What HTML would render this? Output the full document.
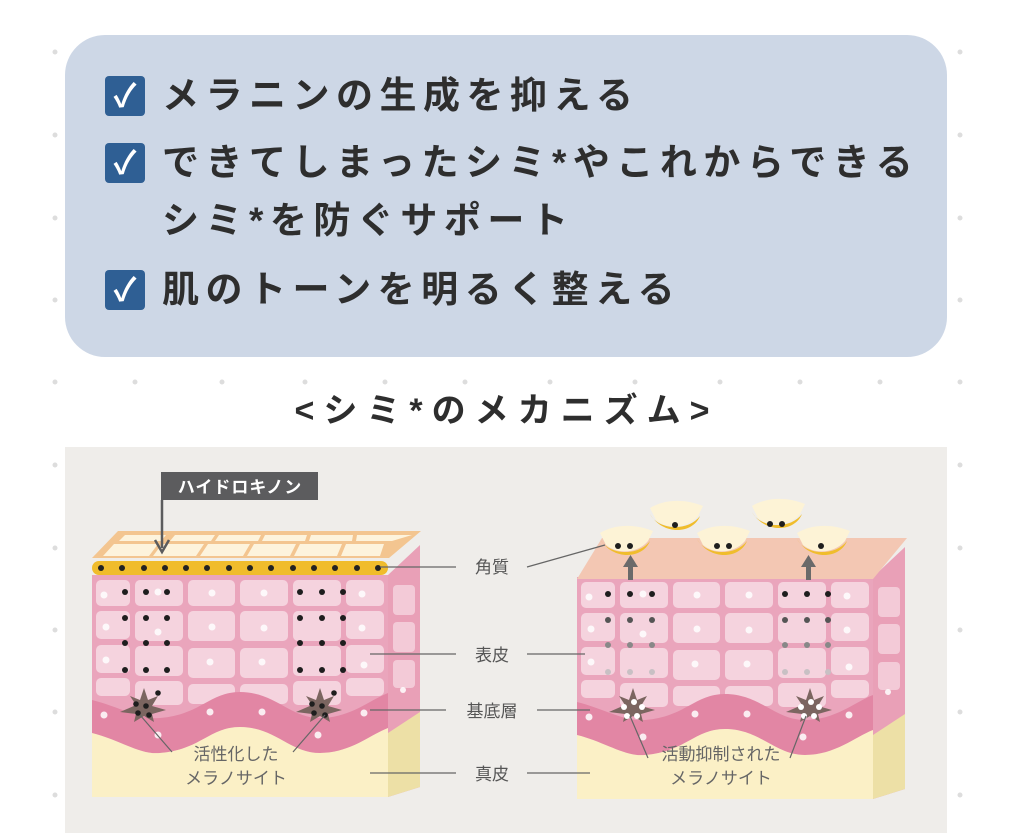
<!DOCTYPE html>
<html><head><meta charset="utf-8"><style>
html,body{margin:0;padding:0;background:#fff;width:1013px;height:833px;overflow:hidden;font-family:"Liberation Sans","Noto Sans CJK JP",sans-serif;}
.box{position:absolute;left:65px;top:35px;width:882px;height:322px;background:#cdd7e6;border-radius:40px;}
.it{position:absolute;left:105px;font-size:37px;font-weight:bold;color:#2e2e2e;letter-spacing:6.5px;line-height:40px;white-space:nowrap;}
.cb{display:inline-block;width:40px;height:40px;background:#2f5f94;border-radius:4px;color:#fff;text-align:center;font-size:32px;line-height:40px;vertical-align:top;margin-right:17px;letter-spacing:0}
.title{position:absolute;left:0;width:1013px;top:383px;text-align:center;font-size:34px;font-weight:bold;color:#2e2e2e;letter-spacing:9px;}
svg{position:absolute;left:0;top:0}
</style></head><body>
<svg width="1013" height="833">
<g fill="#ddd">
<circle cx="55" cy="52" r="2.5"/><circle cx="55" cy="135" r="2.5"/><circle cx="55" cy="218" r="2.5"/><circle cx="55" cy="300" r="2.5"/><circle cx="55" cy="382" r="2.5"/><circle cx="55" cy="465" r="2.5"/><circle cx="55" cy="548" r="2.5"/><circle cx="55" cy="630" r="2.5"/><circle cx="55" cy="712" r="2.5"/><circle cx="55" cy="795" r="2.5"/>
<circle cx="960" cy="52" r="2.5"/><circle cx="960" cy="135" r="2.5"/><circle cx="960" cy="218" r="2.5"/><circle cx="960" cy="300" r="2.5"/><circle cx="960" cy="382" r="2.5"/><circle cx="960" cy="465" r="2.5"/><circle cx="960" cy="548" r="2.5"/><circle cx="960" cy="630" r="2.5"/><circle cx="960" cy="712" r="2.5"/><circle cx="960" cy="795" r="2.5"/>
<circle cx="135" cy="382" r="2.5"/><circle cx="222" cy="382" r="2.5"/><circle cx="305" cy="382" r="2.5"/><circle cx="385" cy="382" r="2.5"/><circle cx="465" cy="382" r="2.5"/><circle cx="550" cy="382" r="2.5"/><circle cx="635" cy="382" r="2.5"/><circle cx="720" cy="382" r="2.5"/><circle cx="800" cy="382" r="2.5"/><circle cx="880" cy="382" r="2.5"/>
</g>
<rect x="65" y="447" width="882" height="386" fill="#efedea"/>
<defs>
<g id="body">
<polygon points="388,575 420,545 420,787 388,797" fill="#e9a0b7"/>
<polygon points="388,733 420,712 420,787 388,797" fill="#ede0a6"/>
<g fill="#f3cad7"><rect x="393" y="585" width="22" height="30" rx="4"/><rect x="393" y="622" width="22" height="30" rx="4"/><rect x="393" y="660" width="22" height="28" rx="4"/></g>
<rect x="92" y="575" width="296" height="222" fill="#eaa5bc"/>
<g fill="#f5d3de">
<rect x="96" y="580" width="34" height="26" rx="5"/><rect x="135" y="580" width="48" height="26" rx="5"/><rect x="188" y="580" width="47" height="26" rx="5"/><rect x="240" y="580" width="48" height="26" rx="5"/><rect x="293" y="580" width="48" height="26" rx="5"/><rect x="346" y="580" width="38" height="26" rx="5"/>
<rect x="96" y="611" width="34" height="28" rx="5"/><rect x="135" y="611" width="48" height="30" rx="5"/><rect x="188" y="611" width="47" height="30" rx="5"/><rect x="240" y="611" width="48" height="30" rx="5"/><rect x="293" y="611" width="48" height="30" rx="5"/><rect x="346" y="611" width="38" height="28" rx="5"/>
<rect x="96" y="645" width="34" height="28" rx="5"/><rect x="135" y="646" width="48" height="30" rx="5"/><rect x="188" y="648" width="47" height="30" rx="5"/><rect x="240" y="648" width="48" height="30" rx="5"/><rect x="293" y="646" width="48" height="30" rx="5"/><rect x="346" y="645" width="38" height="28" rx="5"/>
<rect x="96" y="678" width="34" height="18" rx="5"/><rect x="135" y="681" width="48" height="24" rx="5"/><rect x="188" y="684" width="47" height="20" rx="5"/><rect x="240" y="684" width="48" height="20" rx="5"/><rect x="293" y="681" width="48" height="24" rx="5"/><rect x="346" y="678" width="38" height="18" rx="5"/>
</g>
<path d="M92,700 C120,707 140,720 160,718 C200,715 210,692 240,692 C275,692 290,718 320,718 C350,718 370,700 388,693 L388,728 C370,735 350,753 320,753 C290,753 275,727 240,727 C210,727 200,750 160,753 C140,755 120,740 92,733 Z" fill="#e286a4"/>
<path d="M92,733 C120,740 140,755 160,753 C200,750 210,727 240,727 C275,727 290,753 320,753 C350,753 370,735 388,728 L388,797 L92,797 Z" fill="#fbf0c6"/>
<g fill="#fff" opacity="0.85">
<circle cx="104" cy="595" r="3.5"/><circle cx="158" cy="592" r="3.5"/><circle cx="212" cy="593" r="3.5"/><circle cx="264" cy="593" r="3.5"/><circle cx="362" cy="594" r="3.5"/>
<circle cx="106" cy="627" r="3.5"/><circle cx="158" cy="632" r="3.5"/><circle cx="212" cy="627" r="3.5"/><circle cx="264" cy="628" r="3.5"/><circle cx="362" cy="628" r="3.5"/>
<circle cx="106" cy="660" r="3.5"/><circle cx="210" cy="662" r="3.5"/><circle cx="262" cy="662" r="3.5"/><circle cx="364" cy="665" r="3.5"/>
<circle cx="104" cy="715" r="3.5"/><circle cx="210" cy="712" r="3.5"/><circle cx="262" cy="712" r="3.5"/><circle cx="364" cy="713" r="3.5"/>
<circle cx="158" cy="735" r="3.5"/><circle cx="318" cy="735" r="3.5"/><circle cx="403" cy="690" r="3"/>
</g>
</g>
<g id="mc"><path d="M0,-20 L4,-8 L14,-12 L8,-2 L22,2 L8,6 L10,14 L0,8 L-10,14 L-8,6 L-24,4 L-8,-3 L-14,-12 L-4,-8 Z" fill="#7b6560"/></g>
</defs>
<use href="#body"/>
<use href="#body" transform="translate(485,2)"/>
<polygon points="92,558 118,531 421,531 389,558" fill="#f3c590"/>
<g fill="#fdf3dc"><polygon points="103,556 114,544 158,544 149,556"/><polygon points="119,541 125,535 166,535 161,541"/>
<polygon points="153,556 162,544 204,544 196,556"/><polygon points="200,556 208,544 250,544 243,556"/><polygon points="247,556 254,544 296,544 290,556"/><polygon points="294,556 300,544 342,544 337,556"/><polygon points="341,556 346,544 384,544 380,556"/>
<polygon points="170,541 175,535 215,535 211,541"/><polygon points="215,541 219,535 261,535 258,541"/><polygon points="262,541 265,535 307,535 305,541"/><polygon points="309,541 311,535 353,535 352,541"/><polygon points="356,541 357,535 412,535 392,541"/></g>
<rect x="92" y="561" width="296" height="14" rx="7" fill="#f0bc2c"/>
<g fill="#222"><circle cx="101" cy="568" r="3"/><circle cx="122" cy="568" r="3"/><circle cx="144" cy="568" r="3"/><circle cx="165" cy="568" r="3"/><circle cx="186" cy="568" r="3"/><circle cx="207" cy="568" r="3"/><circle cx="229" cy="568" r="3"/><circle cx="250" cy="568" r="3"/><circle cx="271" cy="568" r="3"/><circle cx="293" cy="568" r="3"/><circle cx="314" cy="568" r="3"/><circle cx="335" cy="568" r="3"/><circle cx="357" cy="568" r="3"/><circle cx="378" cy="568" r="3"/></g>
<g fill="#1e1e1e">
<circle cx="125" cy="592" r="3"/><circle cx="146" cy="592" r="3"/><circle cx="167" cy="592" r="3"/><circle cx="125" cy="618" r="3"/><circle cx="146" cy="618" r="3"/><circle cx="167" cy="618" r="3"/><circle cx="125" cy="643" r="3"/><circle cx="146" cy="643" r="3"/><circle cx="167" cy="643" r="3"/><circle cx="125" cy="670" r="3"/><circle cx="146" cy="670" r="3"/><circle cx="167" cy="670" r="3"/>
<circle cx="300" cy="592" r="3"/><circle cx="322" cy="592" r="3"/><circle cx="343" cy="592" r="3"/><circle cx="300" cy="618" r="3"/><circle cx="322" cy="618" r="3"/><circle cx="343" cy="618" r="3"/><circle cx="300" cy="643" r="3"/><circle cx="322" cy="643" r="3"/><circle cx="343" cy="643" r="3"/><circle cx="300" cy="670" r="3"/><circle cx="322" cy="670" r="3"/><circle cx="343" cy="670" r="3"/>
</g>
<use href="#mc" transform="translate(144,708)"/><use href="#mc" transform="translate(320,708)"/>
<g fill="#1e1e1e"><circle cx="136" cy="704" r="2.8"/><circle cx="146" cy="706" r="2.8"/><circle cx="138" cy="713" r="2.8"/><circle cx="149" cy="715" r="2.8"/><circle cx="158" cy="693" r="2.8"/>
<circle cx="312" cy="704" r="2.8"/><circle cx="322" cy="706" r="2.8"/><circle cx="314" cy="713" r="2.8"/><circle cx="325" cy="715" r="2.8"/><circle cx="334" cy="693" r="2.8"/></g>
<rect x="161" y="472" width="157" height="28" fill="#5c5c5e"/>
<text x="240" y="493" font-size="17" font-weight="bold" fill="#fff" text-anchor="middle" letter-spacing="1">ハイドロキノン</text>
<line x1="162" y1="500" x2="162" y2="548" stroke="#5c5c5e" stroke-width="2.5"/>
<path d="M155,540 L162,552 L169,540" fill="none" stroke="#5c5c5e" stroke-width="2.5"/>
<polygon points="577,579 602,538 907,538 873,579" fill="#f3c7b3"/>
<g fill="#6a6a6a"><rect x="628" y="566" width="5" height="14"/><polygon points="623,567 630.5,555 638,567"/><rect x="806" y="566" width="5" height="14"/><polygon points="801,567 808.5,555 816,567"/></g>
<g fill="#1e1e1e"><circle cx="608" cy="594" r="3"/><circle cx="630" cy="594" r="3"/><circle cx="652" cy="594" r="3"/><circle cx="785" cy="594" r="3"/><circle cx="807" cy="594" r="3"/><circle cx="828" cy="594" r="3"/></g>
<g fill="#555"><circle cx="608" cy="620" r="3"/><circle cx="630" cy="620" r="3"/><circle cx="652" cy="620" r="3"/><circle cx="785" cy="620" r="3"/><circle cx="807" cy="620" r="3"/><circle cx="828" cy="620" r="3"/></g>
<g fill="#888"><circle cx="608" cy="645" r="3"/><circle cx="630" cy="645" r="3"/><circle cx="652" cy="645" r="3"/><circle cx="785" cy="645" r="3"/><circle cx="807" cy="645" r="3"/><circle cx="828" cy="645" r="3"/></g>
<g fill="#c8c0c4"><circle cx="608" cy="672" r="3"/><circle cx="630" cy="672" r="3"/><circle cx="652" cy="672" r="3"/><circle cx="785" cy="672" r="3"/><circle cx="807" cy="672" r="3"/><circle cx="828" cy="672" r="3"/></g>
<use href="#mc" transform="translate(633,708)"/><use href="#mc" transform="translate(810,708)"/>
<g fill="#fff"><circle cx="624" cy="707" r="3"/><circle cx="634" cy="702" r="3"/><circle cx="642" cy="707" r="3"/><circle cx="627" cy="716" r="3"/><circle cx="637" cy="716" r="3"/>
<circle cx="801" cy="707" r="3"/><circle cx="811" cy="702" r="3"/><circle cx="819" cy="707" r="3"/><circle cx="804" cy="716" r="3"/><circle cx="814" cy="716" r="3"/></g>
<defs><g id="fl"><path d="M-28,-12 C-15,-20 5,-22 25,-14 L20,-4 C10,8 -10,10 -22,0 Z" fill="#fdf3d6"/><path d="M-28,-6 C-20,10 10,12 22,-4 C15,14 -15,16 -28,-6 Z" fill="#f0bd2c"/></g></defs>
<use href="#fl" transform="translate(628,545)"/>
<use href="#fl" transform="translate(678,520)"/>
<use href="#fl" transform="translate(725,545)"/>
<use href="#fl" transform="translate(780,518)"/>
<use href="#fl" transform="translate(825,545)"/>
<g fill="#1e1e1e"><circle cx="618" cy="546" r="3"/><circle cx="630" cy="546" r="3"/><circle cx="675" cy="525" r="3"/><circle cx="717" cy="546" r="3"/><circle cx="729" cy="546" r="3"/><circle cx="770" cy="524" r="3"/><circle cx="782" cy="524" r="3"/><circle cx="821" cy="546" r="3"/></g>
<g stroke="#666" stroke-width="1.2">
<line x1="380" y1="567" x2="456" y2="567"/><line x1="527" y1="567" x2="605" y2="545"/>
<line x1="370" y1="654" x2="456" y2="654"/><line x1="527" y1="654" x2="585" y2="654"/>
<line x1="370" y1="710" x2="446" y2="710"/><line x1="537" y1="710" x2="590" y2="710"/>
<line x1="370" y1="773" x2="456" y2="773"/><line x1="527" y1="773" x2="590" y2="773"/>
<line x1="140" y1="715" x2="172" y2="752"/><line x1="325" y1="715" x2="293" y2="752"/>
<line x1="630" y1="716" x2="648" y2="758"/><line x1="806" y1="716" x2="790" y2="758"/>
</g>
<g font-size="17" fill="#555" text-anchor="middle">
<text x="492" y="573">角質</text><text x="492" y="661">表皮</text><text x="492" y="717">基底層</text><text x="492" y="780">真皮</text>
<text x="236" y="760" fill="#666">活性化した</text><text x="236" y="784" fill="#666">メラノサイト</text>
<text x="721" y="760" fill="#666">活動抑制された</text><text x="721" y="784" fill="#666">メラノサイト</text>
</g>
</svg>
<div class="box"></div>
<div class="it" style="top:76px"><span class="cb">✓</span>メラニンの生成を抑える</div>
<div class="it" style="top:143px"><span class="cb">✓</span>できてしまったシミ*やこれからできる</div>
<div class="it" style="top:201px;left:162px">シミ*を防ぐサポート</div>
<div class="it" style="top:270px"><span class="cb">✓</span>肌のトーンを明るく整える</div>
<div class="title">&lt;シミ*のメカニズム&gt;</div>
</body></html>
